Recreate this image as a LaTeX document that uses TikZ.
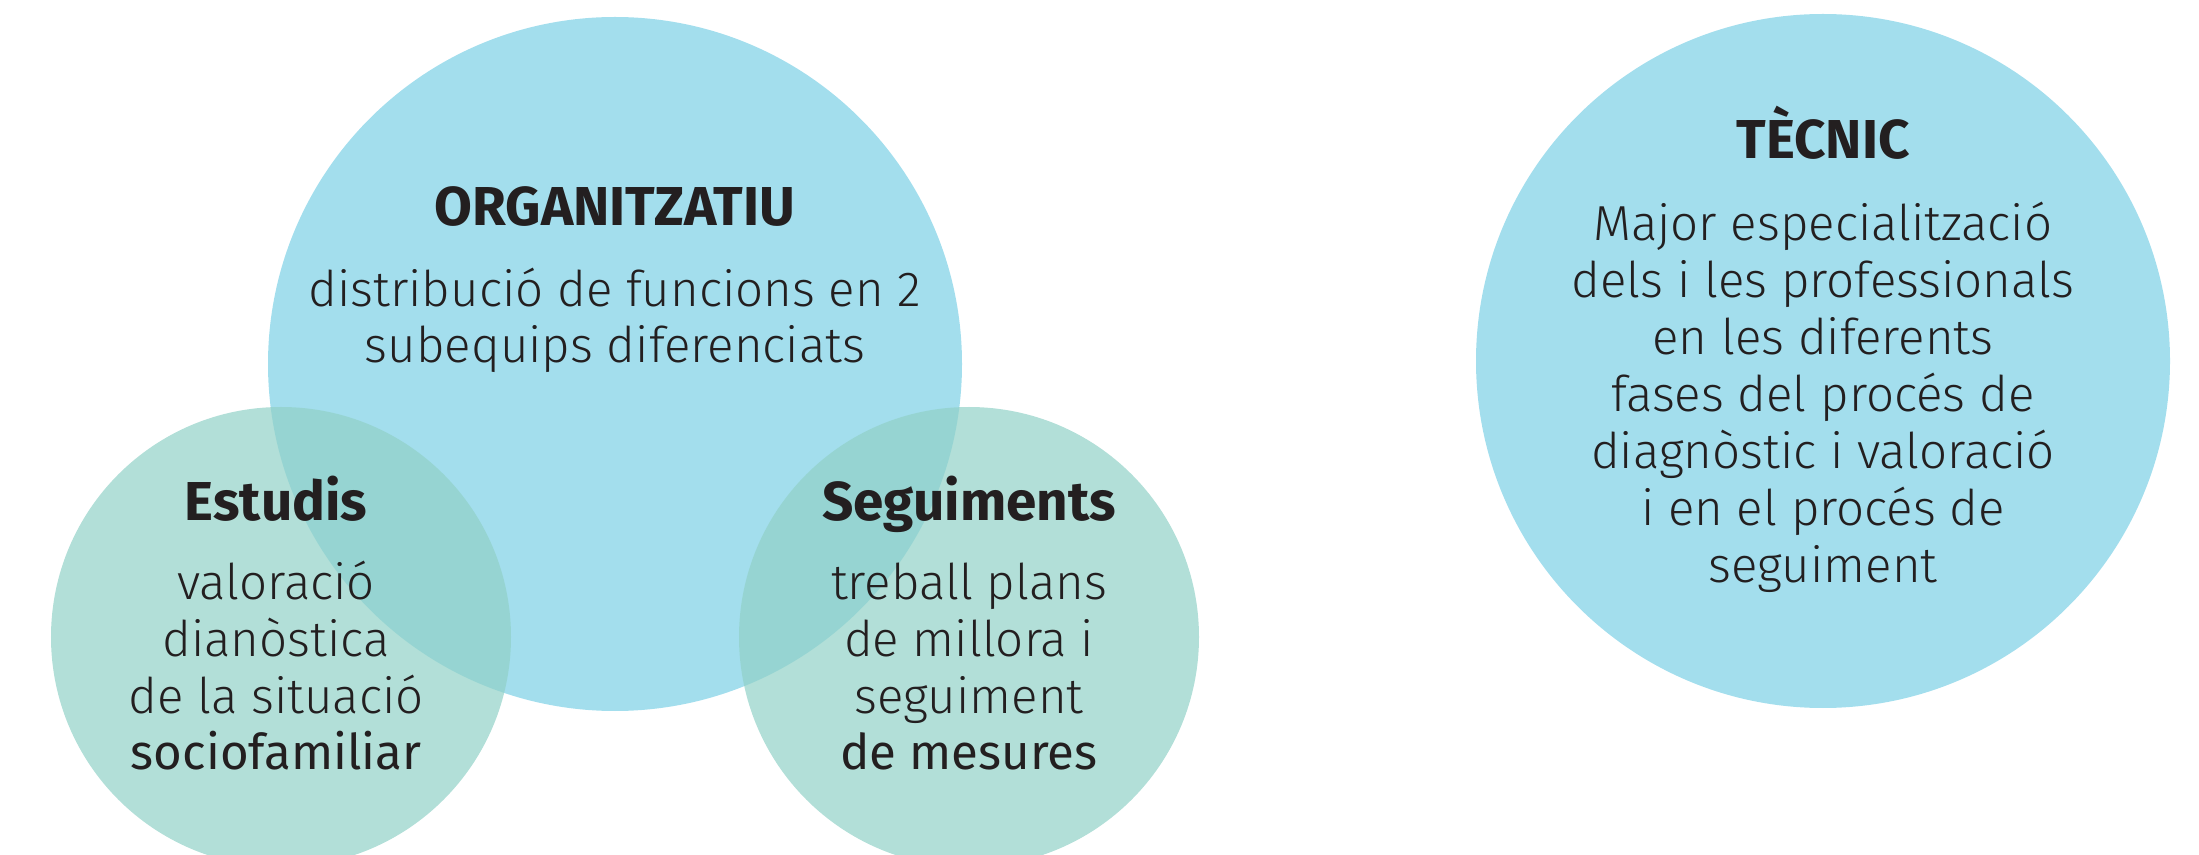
\documentclass[tikz,border=0pt]{standalone}
\usepackage{fontspec}
\setmainfont{Fira Sans}[UprightFont=* Light,BoldFont=* Bold]
\newfontfamily\medfont{Fira Sans}
\usetikzlibrary{positioning}
\definecolor{blau}{RGB}{163,222,237}
\definecolor{verd}{RGB}{145,209,199}
\definecolor{tinta}{RGB}{35,31,32}
\begin{document}
\begin{tikzpicture}[line join = round,
	titol/.style={font=\fontsize{15.6}{17}\selectfont\bfseries,text=tinta,anchor=base,inner sep=0pt},
	cos/.style={font=\fontsize{14}{16.2}\selectfont,text=tinta,align=center,anchor=base,inner sep=0pt}]
		\useasboundingbox (0,0) rectangle (21.99,-8.55);
		\clip (0,0) rectangle (21.99,-8.55);
		\fill[blau] (6.15,-3.64) circle (3.47) (18.23,-3.61) circle (3.47);
		\fill[verd,opacity=0.7] (2.81,-6.37) circle (2.30) (9.69,-6.37) circle (2.30);
		% la base d'un node de diverses linies es la de l'ultima linia
		\node[titol] (org) at (6.15,-2.26) {ORGANITZATIU};
		\node[cos] (orgtext) at (6.15,-3.63) {distribució de funcions en 2\\subequips diferenciats};
		\node[titol] (est) at (2.76,-5.21) {Estudis};
		\node[cos] (esttext) at (2.76,-7.70) {valoració\\dianòstica\\de la situació\\{\medfont sociofamiliar}};
		\node[titol] (seg) at (9.69,-5.21) {Seguiments};
		\node[cos] (segtext) at (9.69,-7.70) {treball plans\\de millora i\\seguiment\\{\medfont de mesures}};
		\node[titol] (tec) at (18.23,-1.59) {TÈCNIC};
		\node[cos] (tectext) at (18.23,-5.82) {Major especialització\\dels i les professionals\\en les diferents\\fases del procés de\\diagnòstic i valoració\\i en el procés de\\seguiment};
	\end{tikzpicture}
\end{document}
